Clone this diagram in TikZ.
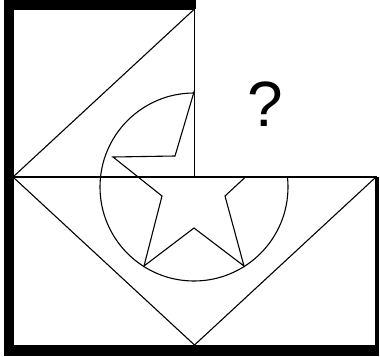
\documentclass[tikz,border=0pt]{standalone}
\usepackage{fontspec}
\newfontfamily\qfont{Liberation Sans}
\usetikzlibrary{positioning}

\begin{document}
\begin{tikzpicture}[x=1pt, y=-1pt,
  thinline/.style={line width=1.1pt, black},
  frame/.style={line width=9pt, black}]
  \useasboundingbox (0,0) rectangle (380,356);

  % top-left square with its diagonal
  \draw[thinline] (13,9) rectangle (194.5,177);
  \draw[thinline] (13,177) -- (194.5,9);

  % bottom rectangle with the two slanted sides
  \draw[thinline] (13,177) rectangle (376,346);
  \draw[thinline] (13,177) -- (194.5,345) -- (376,177);

  % circle and star, upper right quarter left out
  \begin{scope}
    \clip (13,9) -- (194.5,9) -- (194.5,177) -- (376,177)
      -- (376,346) -- (13,346) -- cycle;
    \draw[thinline] (194,187) circle[radius=94pt];
    \draw[thinline] (194,92) -- (175,156) -- (113,157) -- (162,196)
      -- (144,266) -- (194,228) -- (244,266) -- (225,196)
      -- (267,157) -- (213,156) -- cycle;
  \end{scope}

  % thick outer edges
  \draw[frame] (8.5,0) -- (8.5,355);
  \draw[frame] (4,4.5) -- (196,4.5);
  \draw[frame] (4,351) -- (379,351);
  \draw[line width=3pt] (377.5,177) -- (377.5,355);

  \node (quest) at (265,104) {\qfont\fontsize{64}{64}\selectfont ?};
\end{tikzpicture}
\end{document}
